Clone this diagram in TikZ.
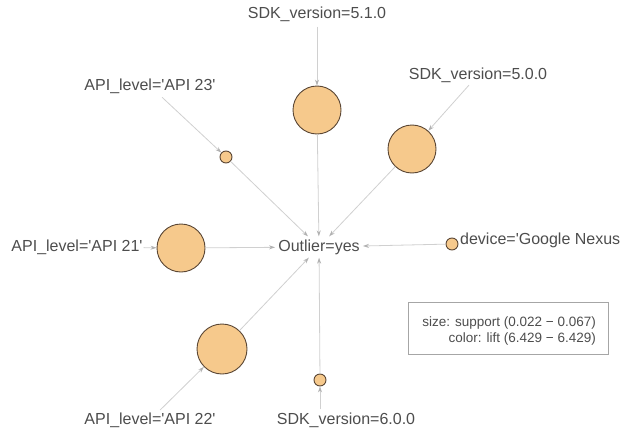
\documentclass[tikz,border=0pt]{standalone}
\usepackage{fontspec}
\setmainfont{Liberation Sans}
\usetikzlibrary{arrows.meta}
\definecolor{txt}{HTML}{4D4D4D}
\definecolor{fillc}{HTML}{F6C98C}
\definecolor{bord}{HTML}{5A4634}
\definecolor{edgec}{HTML}{D0D0D0}
\tikzset{
  lab/.style={text=txt,font=\fontsize{16}{19}\selectfont,inner sep=1pt},
  bub/.style={circle,draw=bord,fill=fillc,line width=0.9pt,inner sep=0pt,minimum size=#1},
  conn/.style={draw=edgec,line width=0.8pt,-{Stealth[length=6pt,width=4pt,color=black!30]}},
}
\begin{document}
\begin{tikzpicture}[x=1pt,y=-1pt]
\useasboundingbox (0,0) rectangle (626,436);
% rule / item vertices
\node[lab,inner sep=3pt] (out) at (319,247) {Outlier=yes};
\node[bub=48pt] (c1) at (317,110) {};
\node[bub=48pt] (c2) at (412,149) {};
\node[bub=12pt] (c3) at (226,157) {};
\node[bub=48pt] (c4) at (181,248) {};
\node[bub=12pt] (c5) at (452,244) {};
\node[bub=50pt] (c6) at (222,349) {};
\node[bub=12pt] (c7) at (320,380) {};
% labels
\node[lab] (l1) at (317,14) {SDK\_version=5.1.0};
\node[lab] (l2) at (478,75) {SDK\_version=5.0.0};
\node[lab] (l3) at (150,86) {API\_level=\textquotesingle API 23\textquotesingle};
\node[lab] (l4) at (77,247) {API\_level=\textquotesingle API 21\textquotesingle};
\node[lab,anchor=west] (l5) at (459,240) {device=\textquotesingle Google Nexus};
\node[lab] (l6) at (150,420) {API\_level=\textquotesingle API 22\textquotesingle};
\node[lab] (l7) at (346,420) {SDK\_version=6.0.0};
% edges item -> rule
\draw[conn,shorten <=4pt] (l1) -- (c1);
\draw[conn,shorten <=2pt] (l2) -- (c2);
\draw[conn,shorten <=4pt] (l3) -- (c3);
\draw[conn] (l4) -- (c4);
\draw[conn,shorten <=2pt] (l6) -- (c6);
\draw[conn,shorten <=2pt] (l7.north -| c7) -- (c7);
% edges rule -> consequent
\draw[conn] (c1) -- (out);
\draw[conn] (c2) -- (out);
\draw[conn] (c3) -- (out);
\draw[conn] (c4) -- (out);
\draw[conn] (c5) -- (out);
\draw[conn] (c6) -- (out);
\draw[conn] (c7) -- (out);
% legend
\node[draw=black!35,line width=0.7pt,minimum width=200pt,minimum height=52pt] (leg) at (508,328) {};
\node[text=txt,font=\fontsize{13.5}{16}\selectfont,align=right,anchor=east,inner sep=0pt] (legt) at (596,331) {size: support (0.022 − 0.067)\\color: lift (6.429 − 6.429)};
\end{tikzpicture}
\end{document}
